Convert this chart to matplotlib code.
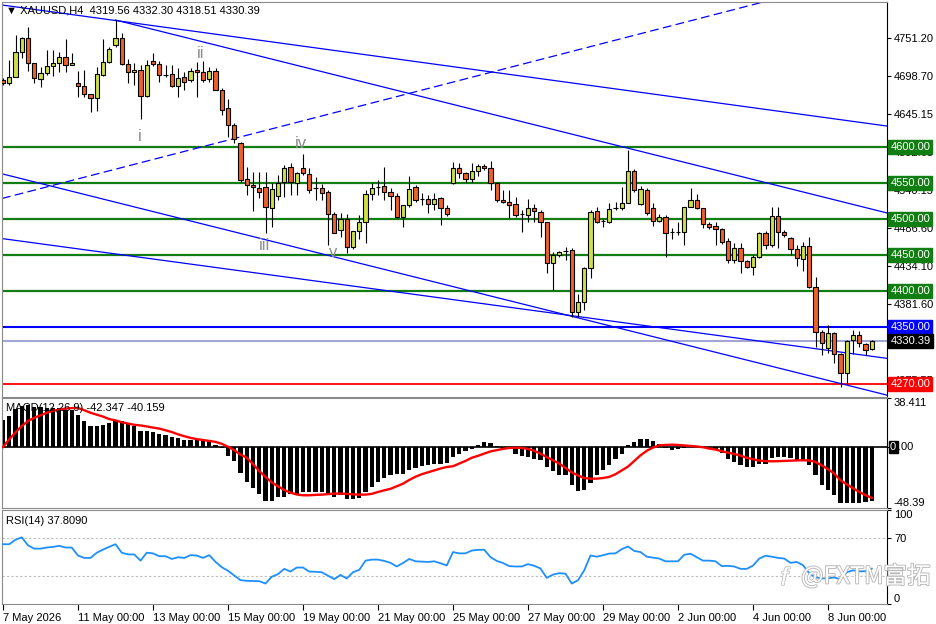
import numpy as np
import matplotlib
matplotlib.use("Agg")
import matplotlib.pyplot as plt
from matplotlib import patheffects as pe
from matplotlib.transforms import blended_transform_factory

plt.rcParams['font.family'] = ['Liberation Sans', 'DejaVu Sans', 'Noto Sans CJK SC']
plt.rcParams['axes.linewidth'] = 0.8

# ---------------- data (XAUUSD H4) ----------------
opens = [
    4692.6, 4688.4, 4696.7, 4731.4, 4750.9, 4716.2, 4694.0, 4702.3, 4712.0, 4716.2,
    4724.5, 4713.4, 4688.4, 4684.2, 4673.1, 4667.6, 4699.5, 4717.5, 4741.1, 4750.9,
    4714.8, 4703.7, 4706.4, 4670.4, 4718.9, 4714.8, 4699.5, 4700.9, 4684.2, 4696.7,
    4692.6, 4706.4, 4703.7, 4694.0, 4705.1, 4678.7, 4653.7, 4630.1, 4605.1, 4555.1,
    4546.8, 4542.7, 4544.0, 4514.9, 4531.6, 4551.0, 4571.8, 4549.6, 4570.4, 4562.1,
    4542.7, 4542.7, 4537.1, 4506.6, 4484.4, 4499.6, 4460.8, 4483.0, 4495.5, 4534.3,
    4544.0, 4545.4, 4537.1, 4531.6, 4502.4, 4519.1, 4544.0, 4527.4, 4527.4, 4520.4,
    4528.8, 4514.9, 4549.6, 4570.4, 4563.5, 4555.1, 4566.3, 4573.2, 4570.4, 4549.6,
    4526.0, 4523.2, 4520.4, 4506.6, 4505.2, 4514.9, 4509.3, 4495.5, 4438.6, 4449.7,
    4455.2, 4456.6, 4370.5, 4384.4, 4431.6, 4510.7, 4496.9, 4495.5, 4514.9, 4514.9,
    4521.8, 4566.3, 4520.4, 4539.9, 4514.9, 4496.9, 4502.4, 4481.6, 4481.6, 4481.6,
    4516.3, 4526.0, 4514.9, 4492.7, 4489.9, 4485.7, 4469.1, 4442.7, 4459.4, 4441.3,
    4433.0, 4446.9, 4480.2, 4463.5, 4503.8, 4481.6, 4473.3, 4458.0, 4444.1, 4462.2,
    4405.2, 4342.8, 4320.6, 4341.4, 4312.2, 4285.9, 4331.7, 4338.6, 4326.1, 4319.56,
]
highs = [
    4695.3, 4720.3, 4755.0, 4752.2, 4766.1, 4716.2, 4710.6, 4734.2, 4734.2, 4731.4,
    4749.5, 4730.0, 4705.1, 4706.4, 4673.1, 4710.6, 4749.5, 4738.4, 4775.8, 4757.8,
    4721.7, 4716.2, 4713.4, 4720.3, 4730.0, 4718.9, 4713.4, 4713.4, 4709.2, 4703.7,
    4709.2, 4717.5, 4718.9, 4710.6, 4709.2, 4681.5, 4666.2, 4632.9, 4606.5, 4571.8,
    4564.9, 4564.9, 4564.9, 4549.6, 4560.7, 4574.6, 4577.4, 4564.9, 4589.8, 4570.4,
    4557.9, 4548.2, 4539.9, 4509.3, 4507.9, 4506.6, 4483.0, 4505.2, 4539.9, 4549.6,
    4553.8, 4571.8, 4542.7, 4535.7, 4519.1, 4559.3, 4546.8, 4535.7, 4532.9, 4535.7,
    4530.2, 4519.1, 4578.8, 4577.4, 4564.9, 4577.4, 4576.0, 4576.0, 4580.2, 4551.0,
    4539.9, 4539.9, 4530.2, 4512.1, 4527.4, 4520.4, 4512.1, 4495.5, 4453.8, 4455.2,
    4460.8, 4459.4, 4395.5, 4433.0, 4512.1, 4516.3, 4499.6, 4521.8, 4523.2, 4544.0,
    4595.4, 4569.0, 4545.4, 4542.7, 4521.8, 4506.6, 4505.2, 4487.1, 4495.5, 4516.3,
    4542.7, 4534.3, 4514.9, 4495.5, 4495.5, 4487.1, 4473.3, 4466.3, 4466.3, 4442.7,
    4449.7, 4481.6, 4483.0, 4516.3, 4516.3, 4484.4, 4474.6, 4463.5, 4467.7, 4474.6,
    4419.2, 4345.6, 4352.5, 4342.8, 4313.6, 4331.7, 4345.6, 4344.2, 4327.5, 4332.30,
]
lows = [
    4686.0, 4685.6, 4696.7, 4723.1, 4705.1, 4688.4, 4682.8, 4699.5, 4698.1, 4703.7,
    4703.7, 4713.4, 4669.0, 4669.0, 4648.1, 4649.5, 4698.1, 4716.2, 4738.4, 4713.4,
    4688.4, 4685.6, 4638.4, 4669.0, 4712.0, 4689.8, 4696.7, 4682.8, 4669.0, 4678.7,
    4689.8, 4669.0, 4689.8, 4689.8, 4678.7, 4644.0, 4613.4, 4605.1, 4551.0, 4532.9,
    4510.7, 4528.8, 4480.2, 4488.5, 4526.0, 4530.2, 4532.9, 4532.9, 4560.7, 4535.7,
    4526.0, 4526.0, 4463.5, 4480.2, 4474.6, 4452.4, 4458.0, 4471.9, 4466.3, 4526.0,
    4532.9, 4526.0, 4512.1, 4501.0, 4488.5, 4516.3, 4523.2, 4519.1, 4507.9, 4512.1,
    4491.3, 4503.8, 4548.2, 4556.5, 4551.0, 4551.0, 4559.3, 4567.6, 4539.9, 4523.2,
    4521.8, 4501.0, 4502.4, 4481.6, 4495.5, 4495.5, 4474.6, 4424.7, 4401.1, 4446.9,
    4442.7, 4363.6, 4363.6, 4373.3, 4417.8, 4494.1, 4488.5, 4494.1, 4512.1, 4512.1,
    4521.8, 4537.1, 4519.1, 4505.2, 4489.9, 4495.5, 4446.9, 4471.9, 4477.4, 4463.5,
    4516.3, 4513.5, 4487.1, 4485.7, 4463.5, 4465.0, 4438.6, 4438.6, 4424.7, 4431.6,
    4421.9, 4445.5, 4458.0, 4460.8, 4459.4, 4474.6, 4449.7, 4434.4, 4427.5, 4403.9,
    4322.0, 4310.9, 4313.6, 4299.7, 4266.4, 4270.6, 4312.2, 4322.0, 4310.9, 4318.51,
]
closes = [
    4688.4, 4696.7, 4731.4, 4750.9, 4716.2, 4695.3, 4702.3, 4712.0, 4716.2, 4724.5,
    4713.4, 4716.2, 4684.2, 4673.1, 4667.6, 4700.9, 4717.5, 4735.6, 4750.9, 4714.8,
    4703.7, 4706.4, 4670.4, 4713.4, 4714.8, 4699.5, 4699.5, 4684.2, 4695.3, 4689.8,
    4705.1, 4703.7, 4692.6, 4705.1, 4678.7, 4650.9, 4630.1, 4610.7, 4553.8, 4546.8,
    4544.0, 4537.1, 4516.3, 4541.3, 4549.6, 4570.4, 4551.0, 4563.5, 4563.5, 4539.9,
    4542.7, 4535.7, 4506.6, 4480.2, 4499.6, 4460.8, 4483.0, 4495.5, 4534.3, 4542.7,
    4544.0, 4537.1, 4531.6, 4502.4, 4519.1, 4541.3, 4526.0, 4527.4, 4520.4, 4527.4,
    4514.9, 4506.6, 4570.4, 4563.5, 4555.1, 4566.3, 4573.2, 4570.4, 4549.6, 4526.0,
    4523.2, 4519.1, 4505.2, 4506.6, 4514.9, 4510.7, 4495.5, 4438.6, 4449.7, 4453.8,
    4455.2, 4370.5, 4384.4, 4431.6, 4509.3, 4495.5, 4496.9, 4513.5, 4514.9, 4521.8,
    4566.3, 4539.9, 4541.3, 4507.9, 4496.9, 4502.4, 4480.2, 4481.6, 4481.6, 4516.3,
    4526.0, 4514.9, 4492.7, 4488.5, 4485.7, 4467.7, 4442.7, 4459.4, 4441.3, 4433.0,
    4446.9, 4480.2, 4463.5, 4503.8, 4481.6, 4477.4, 4458.0, 4445.5, 4462.2, 4405.2,
    4342.8, 4327.5, 4341.4, 4312.2, 4285.9, 4330.3, 4338.6, 4327.5, 4317.8, 4330.39,
]

macd_main = [
    21.6, 24.2, 30.3, 32.1, 32.9, 31.4, 31.4, 30.9, 30.9, 30.9,
    29.5, 29.0, 25.0, 20.8, 16.3, 16.3, 17.1, 19.0, 21.6, 20.3,
    18.2, 16.3, 12.3, 12.3, 11.9, 10.3, 9.2, 7.7, 7.1, 5.2,
    5.2, 5.2, 4.4, 4.4, 1.8, -0.8, -6.9, -11.4, -20.6, -27.3,
    -32.5, -37.0, -42.6, -42.6, -39.2, -39.2, -37.0, -37.0, -35.2, -35.2,
    -35.2, -35.7, -37.8, -39.2, -37.8, -41.0, -41.0, -40.0, -35.2, -31.2,
    -27.7, -24.6, -22.0, -21.4, -21.4, -18.0, -16.7, -15.4, -14.6, -13.5,
    -13.5, -12.7, -8.3, -5.6, -3.0, -1.4, 1.4, 4.0, 3.2, 0.5,
    -0.9, -1.8, -5.6, -7.4, -8.3, -9.3, -10.5, -16.1, -19.3, -22.0,
    -22.5, -29.9, -34.7, -33.8, -28.5, -22.0, -18.0, -14.0, -9.3, -5.6,
    1.4, 4.0, 6.3, 6.3, 4.5, 2.7, -0.5, -2.3, -1.4, -0.5,
    0.9, 0.5, -0.5, -1.0, -2.6, -5.0, -9.2, -11.8, -14.4, -15.7,
    -15.7, -13.1, -13.1, -9.0, -7.9, -7.9, -8.7, -10.5, -11.0, -14.4,
    -22.3, -29.7, -34.2, -38.1, -44.2, -44.2, -44.2, -44.2, -43.5, -42.347,
]
macd_signal = [
    0.0, 6.0, 11.5, 16.5, 20.5, 23.0, 25.0, 27.0, 28.5, 29.5,
    30.3, 30.7, 30.8, 29.0, 27.0, 25.5, 24.0, 22.0, 21.0, 19.5,
    18.5, 17.5, 17.0, 16.2, 15.3, 14.5, 13.2, 11.8, 10.0, 8.5,
    7.2, 6.2, 5.5, 4.8, 4.0, 2.5, 0.2, -2.5, -6.0, -8.5,
    -13.5, -19.0, -23.5, -28.0, -31.0, -34.0, -36.0, -37.5, -38.1, -38.1,
    -37.8, -37.6, -37.2, -36.8, -36.8, -37.0, -37.4, -37.6, -37.6, -37.0,
    -35.5, -34.2, -33.0, -31.0, -29.0, -26.0, -23.5, -21.5, -20.0, -18.5,
    -17.0, -15.8, -15.2, -13.1, -11.0, -8.5, -7.0, -5.2, -3.5, -2.5,
    -1.5, -0.8, -0.6, -0.8, -1.5, -3.0, -5.3, -8.0, -10.5, -13.1,
    -16.5, -20.0, -22.5, -24.5, -25.0, -25.0, -24.5, -23.6, -21.5, -18.5,
    -15.5, -11.0, -6.6, -3.0, -0.5, 1.3, 1.6, 1.8, 1.6, 1.2,
    0.8, 0.4, -0.2, -1.3, -2.0, -3.4, -4.5, -5.5, -6.8, -8.5,
    -9.7, -10.7, -11.2, -11.3, -11.2, -11.0, -10.8, -10.6, -10.5, -10.6,
    -11.8, -14.5, -17.5, -21.0, -26.3, -29.5, -32.5, -35.5, -38.0, -40.159,
]
rsi14 = [
    63.7, 63.7, 68.5, 71.0, 62.5, 59.0, 59.0, 60.2, 60.9, 62.0,
    60.2, 60.2, 51.7, 49.2, 49.2, 54.7, 58.0, 61.0, 63.7, 54.7,
    52.9, 52.9, 46.3, 54.7, 54.0, 51.0, 51.0, 48.1, 49.9, 49.2,
    52.1, 51.7, 49.2, 52.1, 45.0, 39.4, 35.5, 30.5, 25.6, 24.9,
    24.7, 24.5, 22.0, 29.2, 32.0, 37.6, 34.7, 39.0, 39.0, 34.7,
    34.5, 34.0, 30.3, 26.7, 31.1, 27.4, 34.0, 36.5, 46.3, 47.4,
    47.4, 46.0, 44.0, 40.1, 43.8, 48.1, 45.6, 45.3, 44.9, 45.6,
    43.5, 41.2, 55.4, 54.0, 54.0, 57.0, 57.8, 57.8, 50.0, 46.0,
    43.8, 40.5, 40.1, 40.1, 42.6, 40.8, 38.0, 28.0, 31.5, 33.0,
    32.5, 22.0, 25.5, 36.0, 51.8, 50.5, 52.0, 53.8, 54.0, 58.5,
    61.3, 56.6, 55.4, 50.5, 49.5, 48.5, 45.6, 45.6, 45.6, 52.5,
    53.6, 49.9, 46.3, 46.3, 45.6, 40.5, 40.8, 40.1, 37.6, 37.6,
    41.0, 48.5, 51.5, 50.5, 49.2, 48.5, 44.0, 44.9, 41.5, 33.0,
    28.5, 27.5, 27.5, 28.5, 26.5, 34.0, 36.0, 35.0, 35.0, 37.809,
]

date_labels = ["7 May 2026", "11 May 00:00", "13 May 00:00", "15 May 00:00",
               "19 May 00:00", "21 May 00:00", "25 May 00:00", "27 May 00:00",
               "29 May 00:00", "2 Jun 00:00", "4 Jun 00:00", "8 Jun 00:00"]
date_bars = [0, 12, 24, 36, 48, 60, 72, 84, 96, 108, 120, 132]

price_ticks = [4751.20, 4698.70, 4645.15, 4592.65, 4540.15, 4486.60,
               4434.10, 4381.60, 4328.05, 4275.55]
hidden_ticks = [4328.05]   # fully covered by the last-price tag in the reference

green_levels = [4600.0, 4550.0, 4500.0, 4450.0, 4400.0]
blue_level = 4350.0
red_level = 4270.0
last_price = 4330.39

# trend lines: (bar1, price1, bar2, price2)
full_lines = [
    (18, 4775.1, 141.4, 4628.7),
    (0, 4562.0, 120, 4301.7),
    (0, 4472.3, 120, 4331.4),
]
ray_line = (18, 4775.8, 145, 4500.3)
dashed_line = (0, 4528.5, 120, 4797.1)

wave_labels = ["i", "ii", "iii", "iv", "v"]
wave_bars = [21.9, 31.7, 41.9, 47.7, 52.8]
wave_prices = [4614.8, 4730.0, 4463.5, 4605.1, 4453.8]

BULL = '#cfdf45'
BEAR = '#f2602a'
GREEN = '#127d12'

# ---------------- figure ----------------
W, H = 936, 624
fig = plt.figure(figsize=(W / 100, H / 100), dpi=100)
fig.patch.set_facecolor('white')


def panel(top, bottom, left=2, right=887):
    return fig.add_axes([left / W, 1 - bottom / H, (right - left) / W, (bottom - top) / H])


ax1 = panel(2, 396.5)
ax2 = panel(398.3, 508.3)
ax3 = panel(510, 604.3)

for ax in (ax1, ax2, ax3):
    ax.set_xlim(-0.16, 141.44)
    ax.set_facecolor('white')
    for s in ('left', 'top', 'bottom'):
        ax.spines[s].set_color('#8a8a8a')
    ax.spines['right'].set_color('black')
    ax.yaxis.tick_right()
    ax.tick_params(axis='y', direction='out', length=3, width=0.8,
                   labelsize=8, pad=2, colors='black')
ax1.set_xticks([])
ax2.set_xticks([])

# ---------------- price panel ----------------
x = np.arange(len(opens))
o = np.array(opens)
c = np.array(closes)
h = np.array(highs)
l = np.array(lows)
up = c >= o

ax1.set_ylim(4253.3, 4800.8)
ax1.set_yticks(price_ticks)
ax1.set_yticklabels(['' if v in hidden_ticks else f'{v:.2f}' for v in price_ticks])

for lv in green_levels:
    ax1.axhline(lv, color=GREEN, lw=1.6, zorder=1)
ax1.axhline(blue_level, color='#0000ff', lw=1.5, zorder=1)
ax1.axhline(last_price, color='#a3a6d2', lw=1.5, zorder=1)
ax1.axhline(red_level, color='#ff0000', lw=1.3, zorder=1)

for (b1, p1, b2, p2) in full_lines:
    ax1.axline((b1, p1), (b2, p2), color='#0000ff', lw=0.9, zorder=2)
ax1.plot([ray_line[0], ray_line[2]], [ray_line[1], ray_line[3]], color='#0000ff', lw=0.9, zorder=2)
ax1.axline((dashed_line[0], dashed_line[1]), (dashed_line[2], dashed_line[3]),
           color='#0000ff', lw=0.9, ls=(0, (7, 3.5)), zorder=2)

ax1.vlines(x, l, h, color='black', lw=0.8, zorder=3)
body_bottom = np.minimum(o, c)
body_h = np.abs(c - o)
ax1.bar(x[up], body_h[up], bottom=body_bottom[up], width=0.66, color=BULL,
        edgecolor='black', linewidth=0.8, zorder=4)
ax1.bar(x[~up], body_h[~up], bottom=body_bottom[~up], width=0.66, color=BEAR,
        edgecolor='black', linewidth=0.8, zorder=4)

for t, bx, py in zip(wave_labels, wave_bars, wave_prices):
    ax1.text(bx, py, t, color='#8e8e8e', fontsize=12, ha='center', va='center', zorder=5)

trans1 = blended_transform_factory(ax1.transAxes, ax1.transData)


def level_tag(ax, trans, price, txt, bg):
    ax.annotate(txt, xy=(1.0, price), xycoords=trans, xytext=(2.5, 0),
                textcoords='offset points', ha='left', va='center', fontsize=8,
                color='white', zorder=10, annotation_clip=False,
                bbox=dict(boxstyle='square,pad=0.18', fc=bg, ec=bg))


for lv in green_levels:
    level_tag(ax1, trans1, lv, f'{lv:.2f}', GREEN)
level_tag(ax1, trans1, blue_level, f'{blue_level:.2f}', '#0000ff')
level_tag(ax1, trans1, last_price, f'{last_price:.2f}', '#000000')
level_tag(ax1, trans1, red_level, f'{red_level:.2f}', '#ff0000')

ax1.text(0.004, 0.992, '\u25BC XAUUSD,H4  4319.56 4332.30 4318.51 4330.39',
         transform=ax1.transAxes, ha='left', va='top', fontsize=8, color='black', zorder=11)

# ---------------- MACD panel ----------------
ax2.set_ylim(-48.39, 38.411)
ax2.bar(x, macd_main, width=0.7, color='black', zorder=2)
ax2.axhline(0, color='black', lw=1.2, zorder=2)
ax2.plot(x, macd_signal, color='#ff0000', lw=1.7, zorder=3)
ax2.set_yticks([38.411, 0.0, -48.39])
ax2.set_yticklabels(['38.411', '', '-48.39'])
lab = ax2.get_yticklabels()
lab[0].set_va('top')
lab[2].set_va('bottom')
trans2 = blended_transform_factory(ax2.transAxes, ax2.transData)
ax2.annotate('0', xy=(1.0, 0.0), xycoords=trans2, xytext=(2.2, 0),
             textcoords='offset points', ha='left', va='center', fontsize=8,
             color='white', zorder=10, annotation_clip=False,
             bbox=dict(boxstyle='square,pad=0.12', fc='black', ec='black'))
ax2.annotate('.00', xy=(1.0, 0.0), xycoords=trans2, xytext=(7.6, 0),
             textcoords='offset points', ha='left', va='center', fontsize=8,
             color='black', zorder=10, annotation_clip=False)
ax2.text(0.004, 0.955, 'MACD(12,26,9) -42.347 -40.159', transform=ax2.transAxes,
         ha='left', va='top', fontsize=8, color='black', zorder=11)

# ---------------- RSI panel ----------------
ax3.set_ylim(0, 100)
ax3.axhline(70, color='#bdbdbd', lw=0.8, ls=(0, (2, 2)), zorder=1)
ax3.axhline(30, color='#bdbdbd', lw=0.8, ls=(0, (2, 2)), zorder=1)
ax3.plot(x, rsi14, color='#1e8fff', lw=1.3, zorder=3)
ax3.set_yticks([100, 70, 0])
ax3.set_yticklabels(['100', '70', '0'])
lab = ax3.get_yticklabels()
lab[0].set_va('top')
lab[2].set_va('bottom')
ax3.text(0.004, 0.94, 'RSI(14) 37.8090', transform=ax3.transAxes,
         ha='left', va='top', fontsize=8, color='black', zorder=11)

ax3.set_xticks(date_bars)
ax3.set_xticklabels(date_labels, ha='left')
ax3.tick_params(axis='x', direction='out', length=4, width=0.8, labelsize=8, pad=2)

# watermark
wm = ax3.text(0.903, 0.30, '@FXTM富拓', transform=ax3.transAxes, ha='left', va='center',
              fontsize=17, color='white', family=['Noto Sans CJK SC', 'DejaVu Sans'], zorder=6)
wm.set_path_effects([pe.withStroke(linewidth=1.3, foreground='#b8b8b8')])
lg = ax3.text(0.880, 0.28, 'f', transform=ax3.transAxes, ha='left', va='center',
              fontsize=18, style='italic', color='white', zorder=6)
lg.set_path_effects([pe.withStroke(linewidth=1.3, foreground='#c4c4c4')])

fig.savefig('out.png', dpi=100, facecolor='white')
